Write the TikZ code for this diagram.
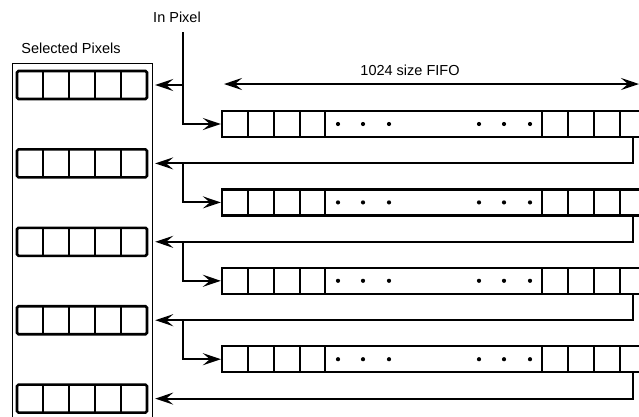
\documentclass[tikz,border=0pt]{standalone}
\usepackage{fontspec}
\setmainfont{Liberation Sans}
\usetikzlibrary{arrows.meta}

\begin{document}
\begin{tikzpicture}[x=1pt, y=-1pt,
    txt/.style={font=\fontsize{14.5}{17}\selectfont, inner sep=0pt},
    outerbox/.style={draw, line width=1.2pt, minimum width=140, minimum height=370, anchor=north west},
    selreg/.style={draw, line width=2.6pt, rounded corners=1.5pt, minimum width=130, minimum height=28, inner sep=0pt,
        path picture={
            \foreach \dx in {26,52,78,104}
                \draw[line width=2.6pt] ([xshift=\dx pt]path picture bounding box.north west) -- ([xshift=\dx pt]path picture bounding box.south west);
        }},
    fifo/.style={draw, line width=2.2pt, minimum width=424, minimum height=26, inner sep=0pt,
        path picture={
            \foreach \dx in {26,52,78,103,320,346,372,398}
                \draw[line width=2.4pt] ([xshift=\dx pt]path picture bounding box.north west) -- ([xshift=\dx pt]path picture bounding box.south west);
            \foreach \dx in {116,141,167,257,282,308}
                \fill ([xshift=\dx pt]path picture bounding box.west) circle (2.1pt);
        }},
    arrow/.style={line width=2.1pt, -{Stealth[length=18pt, width=12pt, inset=7pt]}},
    dblarrow/.style={line width=2.1pt, {Stealth[length=18pt, width=12pt, inset=7pt]}-{Stealth[length=18pt, width=12pt, inset=7pt]}}
]
    \useasboundingbox (0,0) rectangle (639,416);

    % labels
    \node[txt] (inlbl) at (177,17) {In Pixel};
    \node[txt] (sellbl) at (71,48) {Selected Pixels};
    \node[txt] (sizelbl) at (410,70.5) {1024 size FIFO};

    % selected pixel registers
    \node[outerbox] (selbox) at (12,63) {};
    \foreach \k in {1,...,5}
        \node[selreg] (sel\k) at (82,{85+78.4*(\k-1)}) {};

    % line buffers
    \foreach \k in {1,...,4}
        \node[fifo] (fifo\k) at (434,{124+78.4*(\k-1)}) {};

    % size marker
    \coordinate (szl) at (224,84);
    \coordinate (szr) at (639,84);
    \draw[dblarrow] (szl) -- (szr);

    % input
    \coordinate (inpix) at (183,32);
    \draw[arrow, shorten >=2pt] (inpix) |- (sel1.east -| selbox.east);
    \draw[arrow] (inpix) |- (fifo1.west);

    % feedback from each FIFO
    \foreach \k/\n in {1/2,2/3,3/4,4/5} {
        \coordinate (out\k) at ([xshift=-14pt]fifo\k.south east);
        \draw[arrow, shorten >=2pt] (out\k) |- (sel\n.east -| selbox.east);
    }
    \foreach \k/\n in {1/2,2/3,3/4} {
        \coordinate (tap\k) at (sel\n.east -| inpix);
        \draw[arrow] (tap\k) |- (fifo\n.west);
    }
\end{tikzpicture}
\end{document}
